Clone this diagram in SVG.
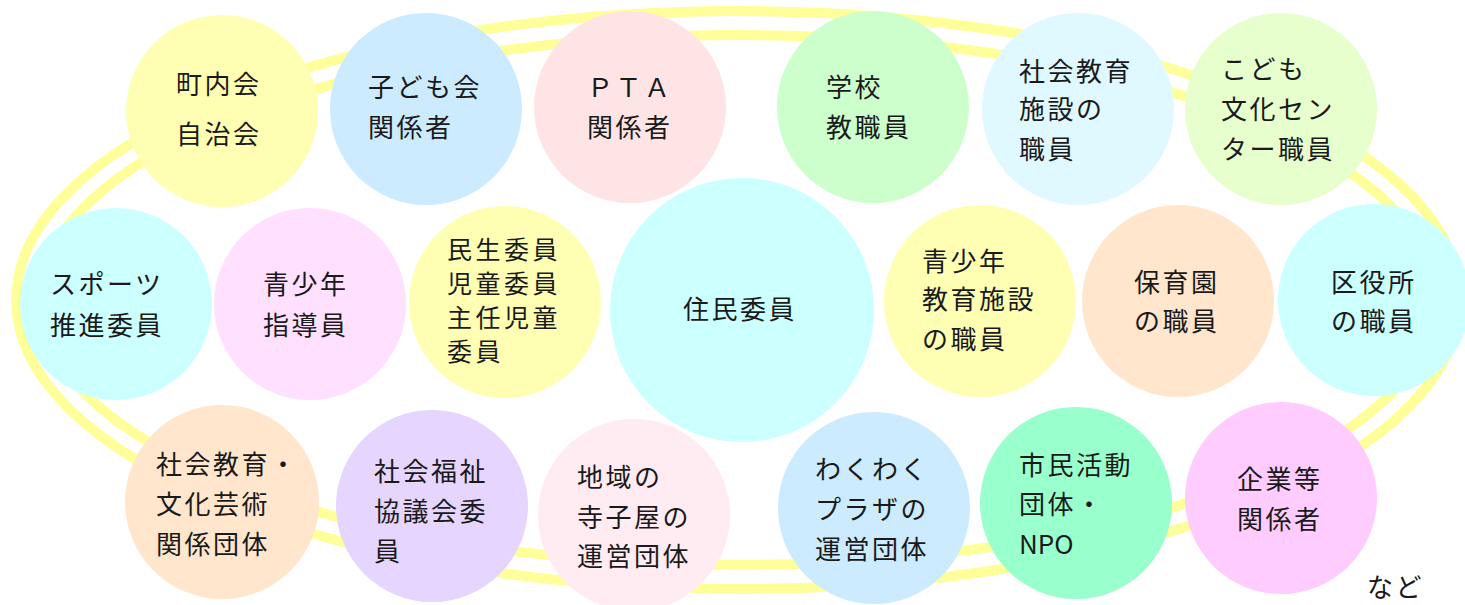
<svg xmlns="http://www.w3.org/2000/svg" width="1465" height="605" viewBox="0 0 1465 605">
<style>
.ring{fill:none;stroke:#FFFF99;stroke-width:10}
text{font-family:"Noto Sans CJK JP","Noto Sans CJK SC",sans-serif;font-size:26px;letter-spacing:2.5px;fill:#1a1a1a}
.t{font-size:25px;letter-spacing:3.5px}
.y{fill:#FFFFB3}.b{fill:#CCEBFF}.pk{fill:#FFE4E6}.g{fill:#CCFFCC}.lc{fill:#E0F8FF}.yg{fill:#E6FFCC}
.c{fill:#CCFFFF}.m{fill:#FFE0FF}.pe{fill:#FFE6CC}.lv{fill:#E6D5FF}.lp{fill:#FFEBF2}.mi{fill:#99FFCC}.mg{fill:#FFCCFF}
</style>
<rect width="1465" height="605" fill="#fff"/>
<g id="connectors">
<ellipse class="ring" cx="738" cy="300" rx="722" ry="289"/>
<ellipse class="ring" cx="738" cy="300" rx="698" ry="265"/>
</g>
<g id="n1"><circle class="y" cx="222" cy="111" r="96"/><text x="176" y="94">町内会</text><text x="176" y="144">自治会</text></g>
<g id="n2"><circle class="b" cx="426" cy="109" r="96"/><text x="368" y="97">子ども会</text><text x="368" y="137">関係者</text></g>
<g id="n3"><circle class="pk" cx="630" cy="107" r="96"/><text x="587" y="97">ＰＴＡ</text><text x="587" y="137">関係者</text></g>
<g id="n4"><circle class="g" cx="873" cy="107" r="96"/><text x="826" y="97">学校</text><text x="826" y="137">教職員</text></g>
<g id="n5"><circle class="lc" cx="1078" cy="109" r="96"/><text x="1019" y="81">社会教育</text><text x="1019" y="119">施設の</text><text x="1019" y="159">職員</text></g>
<g id="n6"><circle class="yg" cx="1281" cy="109" r="96"/><text x="1221" y="79">こども</text><text x="1221" y="119">文化セン</text><text x="1221" y="159">ター職員</text></g>
<g id="n7"><circle class="c" cx="116" cy="304" r="96"/><text x="50" y="294">スポーツ</text><text x="50" y="335">推進委員</text></g>
<g id="n8"><circle class="m" cx="310" cy="304" r="96"/><text x="263" y="294">青少年</text><text x="263" y="335">指導員</text></g>
<g id="n9"><circle class="y" cx="505" cy="302" r="96"/><text class="t" x="447" y="259">民生委員</text><text class="t" x="447" y="293">児童委員</text><text class="t" x="447" y="327">主任児童</text><text class="t" x="447" y="361">委員</text></g>
<g id="n10"><circle class="c" cx="742" cy="310" r="132"/><text x="683" y="319">住民委員</text></g>
<g id="n11"><circle class="y" cx="980" cy="301" r="96"/><text x="922" y="271">青少年</text><text x="922" y="309">教育施設</text><text x="922" y="349">の職員</text></g>
<g id="n12"><circle class="pe" cx="1178" cy="301" r="96"/><text x="1134" y="292">保育園</text><text x="1134" y="331">の職員</text></g>
<g id="n13"><circle class="c" cx="1374" cy="300" r="96"/><text x="1331" y="292">区役所</text><text x="1331" y="331">の職員</text></g>
<g id="n14"><circle class="pe" cx="222" cy="502" r="97"/><text x="156" y="474">社会教育・</text><text x="156" y="514">文化芸術</text><text x="156" y="554">関係団体</text></g>
<g id="n15"><circle class="lv" cx="432" cy="506" r="96"/><text x="374" y="481">社会福祉</text><text x="374" y="521">協議会委</text><text x="374" y="561">員</text></g>
<g id="n16"><circle class="lp" cx="634" cy="515" r="96"/><text x="577" y="487">地域の</text><text x="577" y="527">寺子屋の</text><text x="577" y="566">運営団体</text></g>
<g id="n17"><circle class="b" cx="874" cy="508" r="96"/><text x="815" y="479">わくわく</text><text x="815" y="519">プラザの</text><text x="815" y="559">運営団体</text></g>
<g id="n18"><circle class="mi" cx="1076" cy="503" r="96"/><text x="1019" y="475">市民活動</text><text x="1019" y="514">団体・</text><text x="1019" y="554" style="letter-spacing:0">NPO</text></g>
<g id="n19"><circle class="mg" cx="1281" cy="498" r="96"/><text x="1237" y="489">企業等</text><text x="1237" y="529">関係者</text></g>
<g id="n20"><text x="1367" y="597">など</text></g>
</svg>
